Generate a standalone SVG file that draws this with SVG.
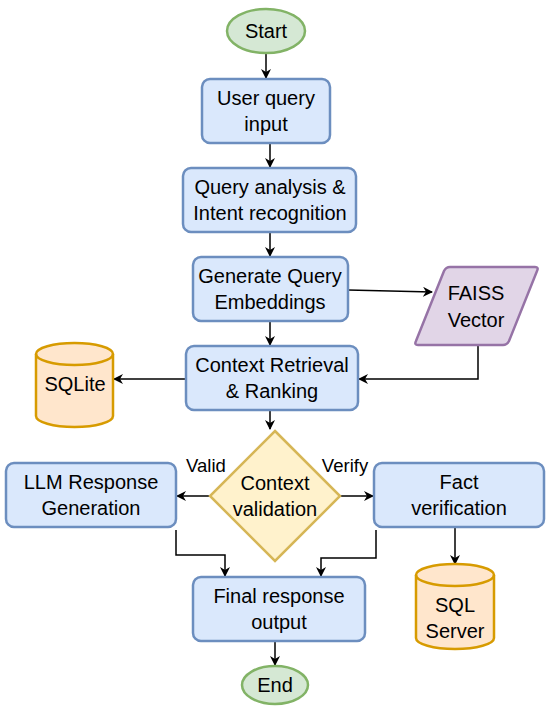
<svg xmlns="http://www.w3.org/2000/svg" width="550" height="708" viewBox="0 0 550 708">
<defs>
<marker id="arr" viewBox="0 0 10 10" refX="9" refY="5" markerWidth="10" markerHeight="10" markerUnits="userSpaceOnUse" orient="auto">
<path d="M0,0 L10,5 L0,10 L3,5 z" fill="#000"/>
</marker>
<style>
text{font-family:"Liberation Sans",Arial,sans-serif;font-size:20px;fill:#000;text-anchor:middle}
.blue{fill:#dae8fc;stroke:#6c8ebf;stroke-width:2.5}
.green{fill:#d5e8d4;stroke:#82b366;stroke-width:2.5}
.yellow{fill:#fff2cc;stroke:#d6b656;stroke-width:2.5}
.purple{fill:#e1d5e7;stroke:#9673a6;stroke-width:2.5}
.orange{fill:#ffe6cc;stroke:#d79b00;stroke-width:2.5}
.edge{fill:none;stroke:#000;stroke-width:1.5;marker-end:url(#arr)}
.lbl{font-size:18.5px}
</style>
</defs>
<rect width="550" height="708" fill="#fff"/>
<g id="connectors">
<path class="edge" d="M266,48 V78"/>
<path class="edge" d="M270,143 V167"/>
<path class="edge" d="M270,232 V256"/>
<path class="edge" d="M348,290 L432,292"/>
<path class="edge" d="M270,321 V345"/>
<path class="edge" d="M186,379 H114"/>
<path class="edge" d="M478,345 V379 H359"/>
<path class="edge" d="M270,410 V429"/>
<path class="edge" d="M210,496 H177"/>
<path class="edge" d="M340,496 H373"/>
<path class="edge" d="M176,530 V555 H225 V576"/>
<path class="edge" d="M376,530 V558 H321 V576"/>
<path class="edge" d="M455,528 V564"/>
<path class="edge" d="M275,641 V665"/>
<text class="lbl" x="206" y="472">Valid</text>
<text class="lbl" x="345" y="472">Verify</text>
</g>
<g id="start"><ellipse class="green" cx="266" cy="31" rx="39" ry="22"/><text x="266" y="38">Start</text></g>
<g id="user-query"><rect class="blue" x="202" y="79" width="128" height="64" rx="8"/><text x="266" y="105">User query</text><text x="266" y="131">input</text></g>
<g id="query-analysis"><rect class="blue" x="183" y="168" width="173" height="64" rx="8"/><text x="270" y="194">Query analysis &amp;</text><text x="270" y="220">Intent recognition</text></g>
<g id="generate-embeddings"><rect class="blue" x="193" y="257" width="155" height="64" rx="8"/><text x="270" y="283">Generate Query</text><text x="270" y="309">Embeddings</text></g>
<g id="faiss"><path class="purple" d="M450,267 H535 Q539,267 537,271 L509,341 Q507,345 503,345 H418 Q414,345 416,341 L444,271 Q446,267 450,267 Z"/><text x="476" y="300">FAISS</text><text x="476" y="327">Vector</text></g>
<g id="context-retrieval"><rect class="blue" x="186" y="346" width="172" height="64" rx="8"/><text x="272" y="372">Context Retrieval</text><text x="272" y="398">&amp; Ranking</text></g>
<g id="sqlite"><path class="orange" d="M36,354 A38.5,11 0 0 1 113,354 V416 A38.5,11 0 0 1 36,416 Z"/><path class="orange" style="fill:none" d="M36,354 A38.5,11 0 0 0 113,354"/><text x="75" y="391">SQLite</text></g>
<g id="context-validation"><path class="yellow" d="M275,431 L340,496 L275,561 L210,496 Z"/><text x="275" y="490">Context</text><text x="275" y="516">validation</text></g>
<g id="llm-response"><rect class="blue" x="6" y="463" width="170" height="64" rx="8"/><text x="91" y="489">LLM Response</text><text x="91" y="515">Generation</text></g>
<g id="fact-verification"><rect class="blue" x="374" y="463" width="170" height="64" rx="8"/><text x="459" y="489">Fact</text><text x="459" y="515">verification</text></g>
<g id="sql-server"><path class="orange" d="M416,575 A39,11 0 0 1 494,575 V638 A39,11 0 0 1 416,638 Z"/><path class="orange" style="fill:none" d="M416,575 A39,11 0 0 0 494,575"/><text x="455" y="612">SQL</text><text x="455" y="638">Server</text></g>
<g id="final-response"><rect class="blue" x="193" y="577" width="172" height="64" rx="8"/><text x="279" y="603">Final response</text><text x="279" y="629">output</text></g>
<g id="end"><ellipse class="green" cx="275" cy="685" rx="33" ry="19"/><text x="275" y="692">End</text></g>
</svg>
